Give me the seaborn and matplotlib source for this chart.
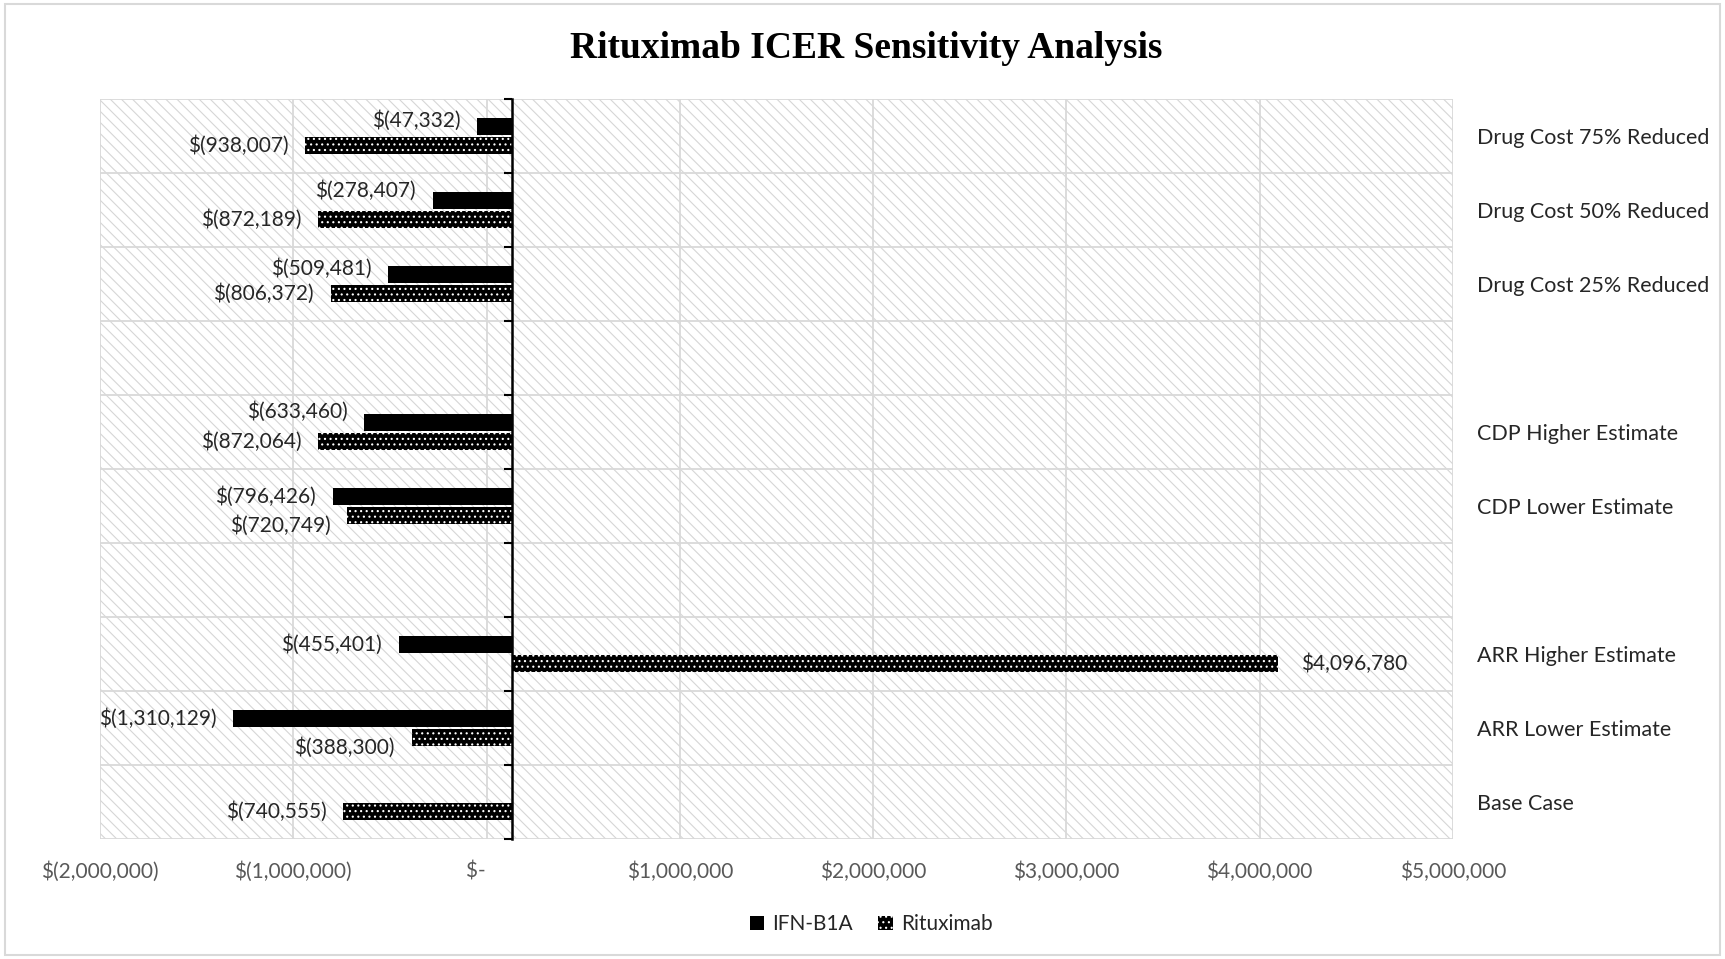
import numpy as np
import pandas as pd
import matplotlib
matplotlib.use("Agg")
import matplotlib.pyplot as plt
from matplotlib.patches import Patch, Rectangle
from matplotlib.ticker import FuncFormatter, FixedLocator
import seaborn as sns

# data
categories = ['Drug Cost 75% Reduced', 'Drug Cost 50% Reduced', 'Drug Cost 25% Reduced', '',
              'CDP Higher Estimate', 'CDP Lower Estimate', ' ',
              'ARR Higher Estimate', 'ARR Lower Estimate', 'Base Case']
ifn_b1a = [-47332, -278407, -509481, np.nan, -633460, -796426, np.nan, -455401, -1310129, np.nan]
rituximab = [-938007, -872189, -806372, np.nan, -872064, -720749, np.nan, 4096780, -388300, -740555]
series = ['IFN-B1A', 'Rituximab']
x_ticks = [-2000000, -1000000, 0, 1000000, 2000000, 3000000, 4000000, 5000000]

# Excel draws the bars from where the vertical axis crosses
axis_cross = 130000

df = pd.DataFrame({'scenario': categories * 2,
                   'icer': ifn_b1a + rituximab,
                   'drug': [series[0]] * len(categories) + [series[1]] * len(categories)})


def money(v, pos=None):
    if v == 0:
        return '$-    '
    if v < 0:
        return '$({:,.0f})'.format(-v)
    return '${:,.0f}'.format(v)


sns.set_theme(style='white')
plt.rcParams['font.family'] = ['Lato', 'DejaVu Sans']
plt.rcParams['hatch.linewidth'] = 0.8

fig = plt.figure(figsize=(17.25, 9.59), dpi=100)
ax = fig.add_axes([0.058, 0.1251, 0.7843, 0.7717])

sns.barplot(data=df, y='scenario', x='icer', hue='drug', order=categories,
            hue_order=series, palette=['black', 'black'], orient='h',
            width=0.52, gap=0.15, dodge=True, legend=False, ax=ax,
            edgecolor='black', linewidth=0)

# move bar bases to the axis crossing and add labels
label_nudge = {(0, 0): 4.5, (0, 1): 7, (0, 2): 4, (0, 4): 8, (1, 5): -7, (1, 8): -7}
for k, cont in enumerate(ax.containers):
    vals = [v for v in (ifn_b1a, rituximab)[k] if not np.isnan(v)]
    idx = [i for i, v in enumerate((ifn_b1a, rituximab)[k]) if not np.isnan(v)]
    for bar, v, i in zip(cont, vals, idx):
        bar.set_x(axis_cross)
        bar.set_width(v - axis_cross)
        if k == 1:
            # black bar with small white dots
            bar.set_facecolor('black')
            bar.set_edgecolor('white')
            bar.set_hatch('...')
            bar.set_linewidth(0)
        yc = bar.get_y() + bar.get_height() / 2
        dx = -12 if v < 0 else 16
        ax.annotate(money(v), (v, yc), xytext=(dx, label_nudge.get((k, i), 0)),
                    textcoords='offset points', ha='right' if v < 0 else 'left',
                    va='center', fontsize=15, color='#262626')

# hatched plot area
ax.patch.set_facecolor('white')
ax.patch.set_edgecolor('#d6d6d6')
ax.patch.set_hatch('\\\\\\')

ax.set_xlim(-2000000, 5000000)
ax.set_ylim(len(categories) - 0.5, -0.5)
ax.xaxis.set_major_locator(FixedLocator(x_ticks))
ax.xaxis.set_major_formatter(FuncFormatter(money))
ax.yaxis.set_major_locator(FixedLocator(range(len(categories))))
ax.set_yticklabels(categories)
ax.yaxis.set_minor_locator(FixedLocator(np.arange(-0.5, len(categories), 1)))

ax.grid(axis='x', which='major', color='#d9d9d9', linewidth=1.3)
ax.grid(axis='y', which='minor', color='#d9d9d9', linewidth=1.3)
ax.grid(axis='y', which='major', visible=False)
ax.set_axisbelow(True)

for s in ['top', 'right', 'bottom']:
    ax.spines[s].set_visible(False)
ax.spines['left'].set_position(('data', axis_cross))
ax.spines['left'].set_color('black')
ax.spines['left'].set_linewidth(1.8)
ax.spines['left'].set_zorder(3)

ax.tick_params(axis='x', length=0, pad=16, labelsize=15, labelcolor='#595959')
ax.tick_params(axis='y', which='major', left=False, right=False, labelleft=False,
               labelright=True, length=0, pad=17, labelsize=15.5, labelcolor='#262626')
ax.tick_params(axis='y', which='minor', left=True, right=False, length=6,
               width=1.5, direction='out', color='black')
ax.set_xlabel('')
ax.set_ylabel('')

fig.text(0.502, 0.949, 'Rituximab ICER Sensitivity Analysis', ha='center', va='center',
         fontsize=27, fontweight='bold', family='Liberation Serif', color='black')

handles = [Patch(facecolor='black', edgecolor='black', linewidth=0),
           Patch(facecolor='black', edgecolor='white', hatch='...', linewidth=0)]
fig.legend(handles, series, loc='center', bbox_to_anchor=(0.505, 0.036), ncol=2,
           frameon=False, fontsize=15, handlelength=0.7, handleheight=0.7,
           handletextpad=0.4, columnspacing=1.2, labelcolor='#262626')

fig.patches.append(Rectangle((0.003, 0.004), 0.994, 0.992, transform=fig.transFigure,
                             fill=False, edgecolor='#d9d9d9', linewidth=1.5))

fig.savefig('out.png', dpi=100)
